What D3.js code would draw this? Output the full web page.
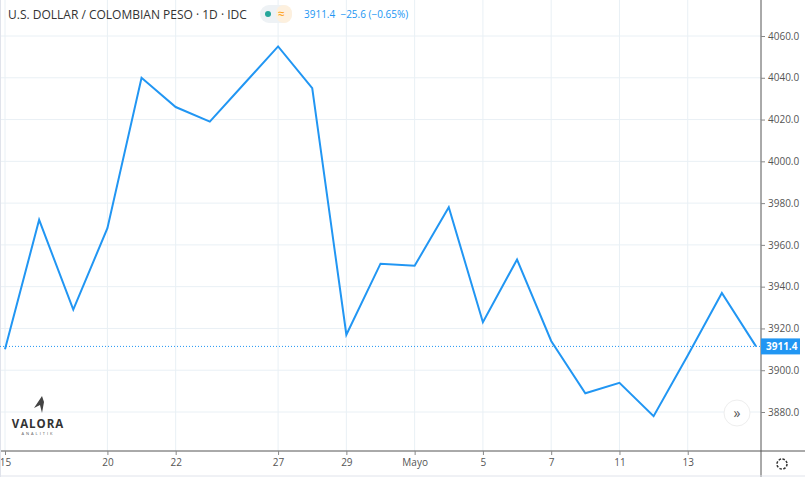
<!DOCTYPE html>
<html><head><meta charset="utf-8">
<script src="https://cdn.jsdelivr.net/npm/d3@7"></script>
<style>
body{margin:0;background:#fff;font-family:"Open Sans","DejaVu Sans",sans-serif}
text{font-family:"Open Sans","DejaVu Sans",sans-serif}
</style></head><body>
<svg width="805" height="477"></svg>
<script>
// **** Data ****
var prices = [3910, 3972, 3929, 3968, 4040, 4026, 4019, 4037, 4055, 4035, 3917, 3951,
    3950, 3978, 3923, 3953, 3914, 3889, 3894, 3878, 3907, 3937, 3911.4];
var tickIdx = [0, 3, 5, 8, 10, 12, 14, 16, 18, 20];
var tickLabels = ["15", "20", "22", "27", "29", "Mayo", "5", "7", "11", "13"];
var yTicks = [3880, 3900, 3920, 3940, 3960, 3980, 4000, 4020, 4040, 4060];
var lastPrice = 3911.4;

// **** Scales ****
var xScale = d3.scaleLinear().domain([0, prices.length - 1]).range([5, 756]);
var yScale = d3.scaleLinear().domain([3880, 4060]).range([412, 36]);

var svg = d3.select("svg");
var grid = "#e9f0f5";

svg.append("g").selectAll("line").data(yTicks).enter().append("line")
    .attr("x1", 0).attr("x2", 761)
    .attr("y1", function (d) { return yScale(d); }).attr("y2", function (d) { return yScale(d); })
    .style("stroke", grid);
svg.append("g").selectAll("line").data(tickIdx).enter().append("line")
    .attr("x1", function (d) { return xScale(d); }).attr("x2", function (d) { return xScale(d); })
    .attr("y1", 0).attr("y2", 451)
    .style("stroke", grid);

// y axis (right)
var yAxis = svg.append("g").attr("transform", "translate(761,0)")
    .call(d3.axisRight(yScale).tickValues(yTicks).tickSize(4).tickFormat(d3.format(".1f")));
yAxis.select(".domain").attr("d", "M0,0V477").style("stroke", "#555");
yAxis.selectAll("line").style("stroke", "#888");
yAxis.selectAll("text").style("fill", "#555").style("font-size", "10px").attr("x", 7);

// x axis (bottom)
var xAxis = svg.append("g").attr("transform", "translate(0,451)")
    .call(d3.axisBottom(xScale).tickValues(tickIdx).tickSize(4)
        .tickFormat(function (d, i) { return tickLabels[i]; }));
xAxis.select(".domain").attr("d", "M0,0H805").style("stroke", "#555");
xAxis.selectAll("line").style("stroke", "#888");
xAxis.selectAll("text").style("fill", "#555").style("font-size", "10px").attr("y", 8);
svg.append("line").attr("x1", 0).attr("x2", 805).attr("y1", 476).attr("y2", 476).style("stroke", "#e0e3eb");
svg.append("line").attr("x1", 0.5).attr("x2", 0.5).attr("y1", 0).attr("y2", 477).style("stroke", "#e0e3eb");

// last price line
svg.append("line").attr("x1", 0).attr("x2", 761)
    .attr("y1", yScale(lastPrice)).attr("y2", yScale(lastPrice))
    .style("stroke", "#2196f3").style("stroke-dasharray", "1,2");

// price line
var line = d3.line().x(function (d, i) { return xScale(i); }).y(function (d) { return yScale(d); });
svg.append("path").datum(prices).attr("d", line)
    .style("fill", "none").style("stroke", "#2196f3").style("stroke-width", 2);

// last price label
svg.append("rect").attr("x", 761).attr("y", yScale(lastPrice) - 8).attr("width", 39).attr("height", 16).style("fill", "#2196f3");
svg.append("text").attr("x", 766).attr("y", yScale(lastPrice) + 4).text("3911.4")
    .style("fill", "#fff").style("font-size", "10px").style("font-weight", "bold");

// header
svg.append("text").attr("x", 8).attr("y", 19).text("U.S. DOLLAR / COLOMBIAN PESO · 1D · IDC")
    .style("fill", "#333").style("font-size", "12px");
svg.append("rect").attr("x", 260).attr("y", 5).attr("width", 32).attr("height", 18).attr("rx", 9).style("fill", "#eef2f5");
svg.append("rect").attr("x", 276).attr("y", 5).attr("width", 16).attr("height", 18).attr("rx", 8).style("fill", "#fdf0de");
svg.append("circle").attr("cx", 268).attr("cy", 14).attr("r", 3).style("fill", "#26a69a");
svg.append("text").attr("x", 278).attr("y", 18).text("≈").style("fill", "#ff9800").style("font-size", "12px");
svg.append("text").attr("x", 304).attr("y", 18).text("3911.4  −25.6 (−0.65%)")
    .style("fill", "#2196f3").style("font-size", "10px").attr("xml:space", "preserve");

// scroll button
svg.append("circle").attr("cx", 737).attr("cy", 413).attr("r", 13).style("fill", "#fff")
    .style("stroke", "#eee");
svg.append("text").attr("x", 737).attr("y", 418).attr("text-anchor", "middle").text("»")
    .style("fill", "#555").style("font-size", "14px");

// gear
svg.append("circle").attr("cx", 782).attr("cy", 464).attr("r", 5).style("fill", "none")
    .style("stroke", "#333").style("stroke-width", 1.5).style("stroke-dasharray", "2.5,1.4");

// logo
svg.append("path").attr("d", "M42,396 L34,408 L40,405 L42,413 L44,402 Z").style("fill", "#444");
svg.append("text").attr("x", 38).attr("y", 428).attr("text-anchor", "middle").text("VALORA")
    .style("fill", "#333").style("font-size", "11.5px").style("font-weight", "bold").style("letter-spacing", "1px");
svg.append("text").attr("x", 38).attr("y", 435).attr("text-anchor", "middle").text("ANALITIK")
    .style("fill", "#555").style("font-size", "4px").style("letter-spacing", "2px");
</script>
</body></html>
